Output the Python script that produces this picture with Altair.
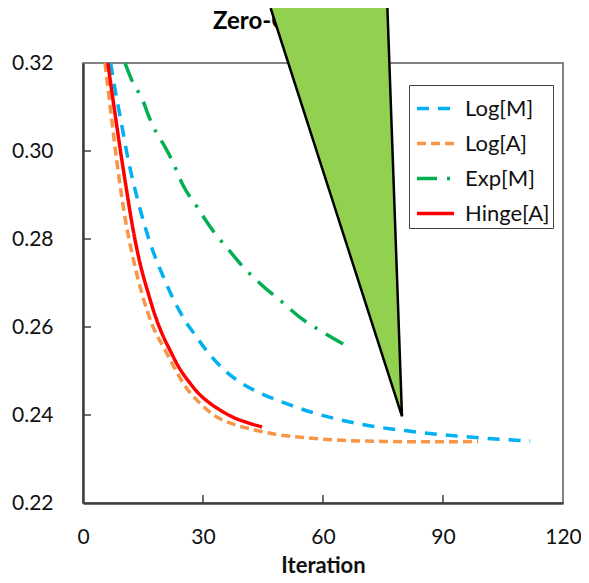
import altair as alt
import pandas as pd

# ---- data ----
series_names = ["Log[M]", "Log[A]", "Exp[M]", "Hinge[A]"]
series_colors = ["#00B0F0", "#F79646", "#00B050", "#FF0000"]
series_dashes = [[12, 9], [9, 5], [20, 10, 3, 10], [1, 0]]

logM_x = [6.9, 7.6, 9.5, 11.3, 13.5, 15.5, 18, 20.1, 22.5, 25.5, 28, 31, 35, 39.5, 45, 51.7, 58, 64.3, 72, 81, 90, 99.3, 106, 111.8]
logM_y = [0.320, 0.3161, 0.3068, 0.2980, 0.2895, 0.2828, 0.2760, 0.2714, 0.2665, 0.2615, 0.2582, 0.2545, 0.2505,
          0.2473, 0.2447, 0.2423, 0.2404, 0.2389, 0.2375, 0.2364, 0.2355, 0.2348, 0.2344, 0.2341]

logA_x = [5.5, 7, 8.4, 10.9, 12.8, 14.7, 17.3, 20.5, 22.7, 25, 29.2, 33, 38, 43, 49, 56, 66, 75, 82.5, 90, 98.8]
logA_y = [0.320, 0.3085, 0.2980, 0.2828, 0.2745, 0.2677, 0.2605, 0.2548, 0.2510, 0.2473, 0.2427, 0.2398, 0.2378,
          0.2366, 0.2355, 0.2348, 0.2342, 0.2340, 0.2339, 0.2339, 0.2340]

expM_x = [10.5, 12.2, 15.1, 16.3, 17.6, 20.7, 22.2, 25, 28.5, 32, 36, 40, 44.75, 50, 54.5, 60, 65.5]
expM_y = [0.320, 0.3161, 0.3112, 0.3082, 0.3055, 0.3006, 0.2980, 0.2922, 0.2873, 0.2825, 0.2780, 0.2737, 0.2695,
          0.2655, 0.2620, 0.2588, 0.2559]

hinge_x = [6.2, 8, 9.7, 11, 12.2, 14, 16.3, 18, 20, 21.7, 24, 26.7, 29, 31.7, 34.5, 37.5, 41, 44.75]
hinge_y = [0.320, 0.3085, 0.2980, 0.2905, 0.2838, 0.2755, 0.2677, 0.2627, 0.2580, 0.2548, 0.2508, 0.2473, 0.2448,
           0.2427, 0.2410, 0.2395, 0.2383, 0.2373]

x_ticks = [0, 30, 60, 90, 120]
y_ticks = [0.22, 0.24, 0.26, 0.28, 0.30, 0.32]
inner_x_ticks = [30, 60, 90]
inner_y_ticks = [0.24, 0.26, 0.28, 0.30]

title_text = "Zero-One Error"

# callout triangle (data coordinates): top-left, tip, top-right
tri_x = [46.9, 79.75, 76.1]
tri_y = [0.3325, 0.2397, 0.3325]

# ---- build tables ----
rows = []
for name, xs, ys in [("Log[M]", logM_x, logM_y), ("Log[A]", logA_x, logA_y),
                     ("Exp[M]", expM_x, expM_y), ("Hinge[A]", hinge_x, hinge_y)]:
    for i, (a, b) in enumerate(zip(xs, ys)):
        rows.append({"series": name, "iter": a, "err": b, "i": i})
df = pd.DataFrame(rows)

tri_df = pd.DataFrame({"x": tri_x, "y": tri_y, "o": list(range(len(tri_x)))})

FONT = "Lato"
xscale = alt.Scale(domain=[0, 120], nice=False, zero=False)
yscale = alt.Scale(domain=[0.22, 0.32], nice=False, zero=False)

lines = alt.Chart(df).mark_line(strokeWidth=3.5, interpolate="monotone", strokeCap="butt").encode(
    x=alt.X("iter:Q", scale=xscale,
            axis=alt.Axis(values=x_ticks, title="Iteration", ticks=False, labelPadding=23,
                          titlePadding=8, grid=False, format="d", labelFlush=False)),
    y=alt.Y("err:Q", scale=yscale,
            axis=alt.Axis(values=y_ticks, title=None, ticks=False, labelPadding=30, grid=False,
                          format=".2f", labelFlush=False)),
    color=alt.Color("series:N", scale=alt.Scale(domain=series_names, range=series_colors),
                    legend=alt.Legend(title=None)),
    strokeDash=alt.StrokeDash("series:N", scale=alt.Scale(domain=series_names, range=series_dashes),
                              legend=alt.Legend(title=None)),
    order="i:Q",
)

ytick_layer = alt.Chart(pd.DataFrame({"v": inner_y_ticks})).mark_rule(color="#404040", strokeWidth=1.5).encode(
    y=alt.Y("v:Q", scale=yscale), x=alt.value(0), x2=alt.value(8))
xtick_layer = alt.Chart(pd.DataFrame({"v": inner_x_ticks})).mark_rule(color="#404040", strokeWidth=1.5).encode(
    x=alt.X("v:Q", scale=xscale), y=alt.value(440), y2=alt.value(432))

title_layer = alt.Chart(pd.DataFrame({"t": [title_text]})).mark_text(
    font=FONT, fontSize=24, fontWeight="bold", align="left", baseline="alphabetic", color="#000000"
).encode(text="t:N", x=alt.value(130), y=alt.value(-34))

tri_fill = alt.Chart(tri_df).mark_line(fill="#92D050", strokeWidth=0, stroke="#92D050", strokeOpacity=0,
                                       clip=False).encode(
    x=alt.X("x:Q", scale=xscale), y=alt.Y("y:Q", scale=yscale), order="o:Q")
tri_edge = alt.Chart(tri_df).mark_line(stroke="black", strokeWidth=2.5, clip=False, strokeJoin="miter").encode(
    x=alt.X("x:Q", scale=xscale), y=alt.Y("y:Q", scale=yscale), order="o:Q")

chart = alt.layer(title_layer, lines, ytick_layer, xtick_layer, tri_fill, tri_edge).properties(
    width=480, height=440,
    autosize=alt.AutoSizeParams(type="none"),
    padding={"left": 75, "top": 55, "right": 18, "bottom": 78},
).configure_view(
    stroke="#595959", strokeWidth=1.5
).configure_axis(
    labelFont=FONT, labelFontSize=21, labelColor="#111111",
    titleFont=FONT, titleFontSize=22, titleFontWeight="bold", titleColor="#111111",
    domainColor="#404040", domainWidth=2.5,
).configure_legend(
    orient="none", legendX=326, legendY=22,
    symbolType="stroke", symbolSize=1369, symbolStrokeWidth=3.5, symbolOffset=3,
    labelFont=FONT, labelFontSize=22, labelColor="#111111", labelOffset=9,
    rowPadding=3, padding=3, strokeColor="#404040", fillColor="white",
)

chart.save("out.html", embed_options={"renderer": "svg", "actions": False})
